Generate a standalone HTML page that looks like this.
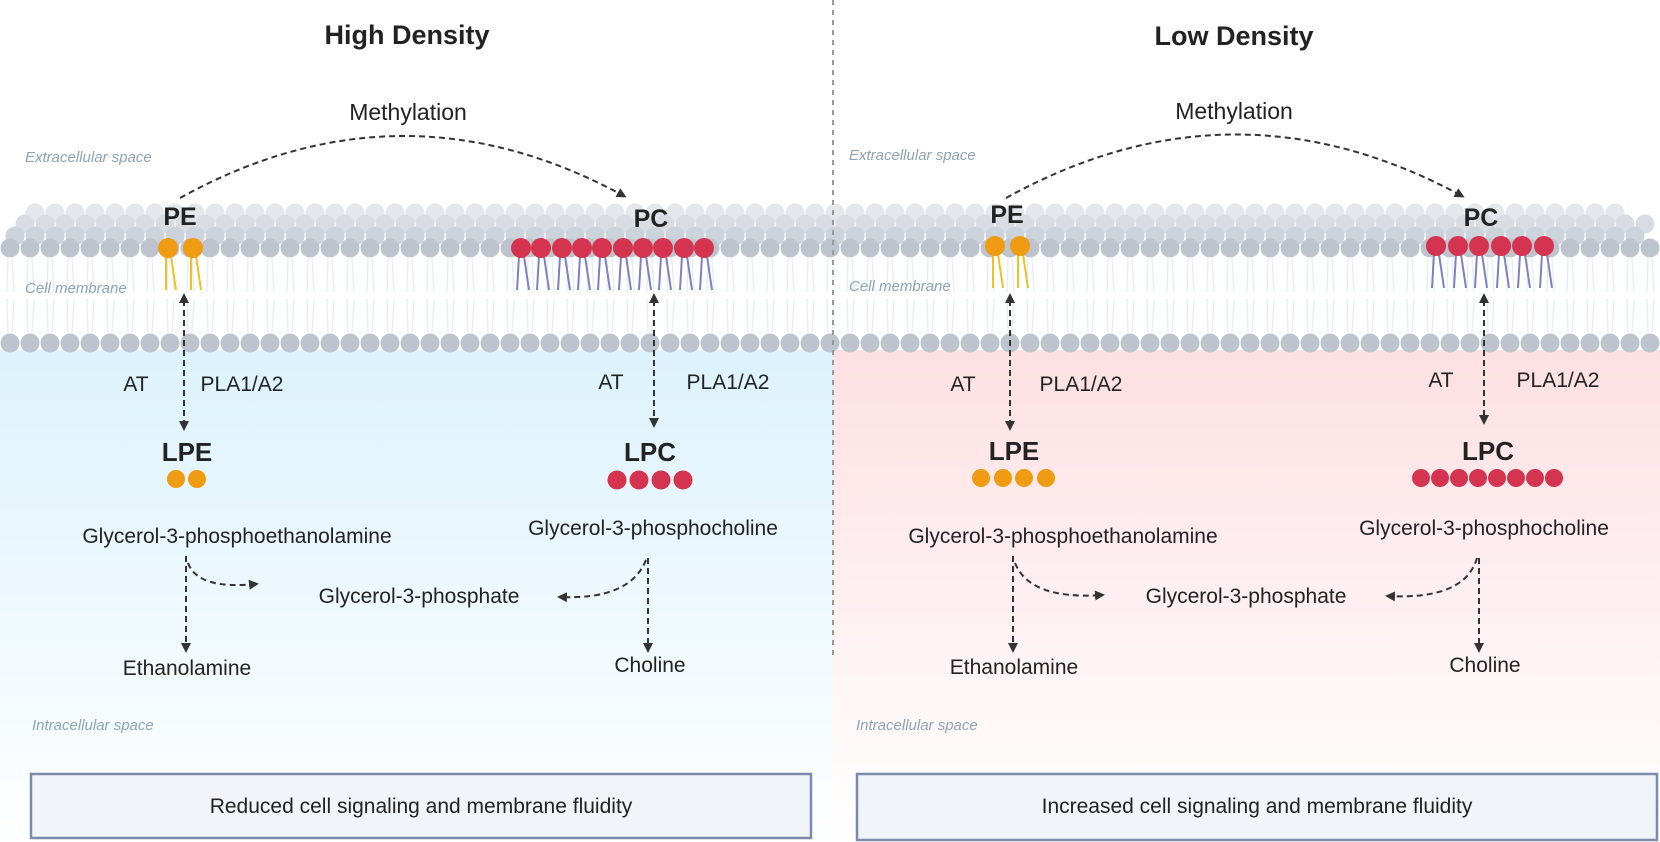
<!DOCTYPE html>
<html><head><meta charset="utf-8"><style>
html,body{margin:0;padding:0;background:#fff}
svg{display:block}
text{font-family:"Liberation Sans",sans-serif;fill:#222}
.it{font-style:italic;fill:#8fa3b5;font-size:15px}
.b{font-weight:bold}
</style></head><body>
<svg width="1660" height="842" viewBox="0 0 1660 842" xmlns="http://www.w3.org/2000/svg">
<defs>
<linearGradient id="gb" x1="0" y1="0" x2="0" y2="1"><stop offset="0" stop-color="#dcf2fc"/><stop offset="1" stop-color="#ffffff"/></linearGradient>
<linearGradient id="gp" x1="0" y1="0" x2="0" y2="1"><stop offset="0" stop-color="#fde0e3"/><stop offset="1" stop-color="#ffffff"/></linearGradient>
<pattern id="r1" x="5" y="203" width="20" height="20" patternUnits="userSpaceOnUse"><circle cx="10" cy="10" r="9.5" fill="#e4e7eb"/></pattern>
<pattern id="r2" x="15" y="214" width="20" height="20" patternUnits="userSpaceOnUse"><circle cx="10" cy="10" r="9.5" fill="#d9dde3"/></pattern>
<pattern id="r3" x="5" y="226" width="20" height="20" patternUnits="userSpaceOnUse"><circle cx="10" cy="10" r="9.5" fill="#cdd3da"/></pattern>
<pattern id="r4" x="0" y="238" width="20" height="20" patternUnits="userSpaceOnUse"><circle cx="10" cy="10" r="9.5" fill="#bdc4cd"/></pattern>
<pattern id="r5" x="0" y="333" width="20" height="20" patternUnits="userSpaceOnUse"><circle cx="10" cy="10" r="9.5" fill="#bdc4cd"/></pattern>
<pattern id="t1" x="0" y="258" width="20" height="34" patternUnits="userSpaceOnUse"><path d="M8,0 L7,34 M12,0 L14,34" stroke="#e2edf8" stroke-width="1.3" fill="none"/></pattern>
<pattern id="t2" x="0" y="299" width="20" height="34" patternUnits="userSpaceOnUse"><path d="M7,0 L8,34 M14,0 L12,34" stroke="#e2edf8" stroke-width="1.3" fill="none"/></pattern>
<marker id="ah" markerWidth="10" markerHeight="10" refX="7" refY="5" orient="auto" markerUnits="userSpaceOnUse"><path d="M0,0 L10,5 L0,10 Z" fill="#333"/></marker>
<marker id="as" markerWidth="10" markerHeight="10" refX="3" refY="5" orient="auto-start-reverse" markerUnits="userSpaceOnUse"><path d="M0,0 L10,5 L0,10 Z" fill="#333"/></marker>
</defs>
<rect x="0" y="350" width="833" height="492" fill="url(#gb)"/>
<rect x="833" y="350" width="827" height="492" fill="url(#gp)"/>
<rect x="25" y="203" width="1600" height="20" fill="url(#r1)"/>
<rect x="15" y="214" width="1640" height="20" fill="url(#r2)"/>
<rect x="5" y="226" width="1640" height="20" fill="url(#r3)"/>
<rect x="0" y="258" width="1660" height="34" fill="url(#t1)"/>
<rect x="0" y="299" width="1660" height="34" fill="url(#t2)"/>
<rect x="0" y="238" width="1660" height="20" fill="url(#r4)"/>
<rect x="0" y="333" width="1660" height="20" fill="url(#r5)"/>
<line x1="833" y1="0" x2="833" y2="655" stroke="#999" stroke-width="2" stroke-dasharray="5 5"/>
<text x="407" y="44" text-anchor="middle" font-size="27" class="b">High Density</text>
<text x="1234" y="45" text-anchor="middle" font-size="27" class="b">Low Density</text>
<text x="408" y="120" text-anchor="middle" font-size="23">Methylation</text>
<text x="1234" y="119" text-anchor="middle" font-size="23">Methylation</text>
<text x="25" y="162" class="it">Extracellular space</text>
<text x="849" y="160" class="it">Extracellular space</text>
<text x="25" y="293" class="it">Cell membrane</text>
<text x="849" y="291" class="it">Cell membrane</text>
<text x="32" y="730" class="it">Intracellular space</text>
<text x="856" y="730" class="it">Intracellular space</text>
<path d="M180,198 Q402,75 624,196" fill="none" stroke="#333" stroke-width="2" stroke-dasharray="6 4" marker-end="url(#ah)"/>
<path d="M1006,198 Q1234,72 1462,196" fill="none" stroke="#333" stroke-width="2" stroke-dasharray="6 4" marker-end="url(#ah)"/>
<g stroke="#f2c021" stroke-width="2" fill="none">
<path d="M166,256 L166,290 M171,256 L176,290 M191,256 L191,290 M196,256 L201,290"/>
<path d="M993,254 L993,288 M998,254 L1003,288 M1018,254 L1018,288 M1023,254 L1028,288"/>
</g>
<g fill="#ef9c12">
<circle cx="168" cy="248" r="10"/><circle cx="193" cy="248" r="10"/>
<circle cx="995" cy="246" r="10"/><circle cx="1020" cy="246" r="10"/>
</g>
<g stroke="#7f80c0" stroke-width="2" fill="none">
<path d="M519,256 L517,290 M524,256 L529,290 M539,256 L537,290 M544,256 L549,290 M560,256 L558,290 M565,256 L570,290 M580,256 L578,290 M585,256 L590,290 M600,256 L598,290 M605,256 L610,290 M621,256 L619,290 M626,256 L631,290 M641,256 L639,290 M646,256 L651,290 M661,256 L659,290 M666,256 L671,290 M682,256 L680,290 M687,256 L692,290 M702,256 L700,290 M707,256 L712,290"/>
<path d="M1434,254 L1432,288 M1439,254 L1444,288 M1456,254 L1454,288 M1461,254 L1466,288 M1477,254 L1475,288 M1482,254 L1487,288 M1499,254 L1497,288 M1504,254 L1509,288 M1520,254 L1518,288 M1525,254 L1530,288 M1542,254 L1540,288 M1547,254 L1552,288"/>
</g>
<g fill="#d4344f">
<circle cx="521" cy="248" r="10"/><circle cx="541" cy="248" r="10"/><circle cx="562" cy="248" r="10"/><circle cx="582" cy="248" r="10"/><circle cx="602" cy="248" r="10"/><circle cx="623" cy="248" r="10"/><circle cx="643" cy="248" r="10"/><circle cx="663" cy="248" r="10"/><circle cx="684" cy="248" r="10"/><circle cx="704" cy="248" r="10"/>
<circle cx="1436" cy="246" r="10"/><circle cx="1458" cy="246" r="10"/><circle cx="1479" cy="246" r="10"/><circle cx="1501" cy="246" r="10"/><circle cx="1522" cy="246" r="10"/><circle cx="1544" cy="246" r="10"/>
</g>
<text x="180" y="225" text-anchor="middle" font-size="25" class="b">PE</text>
<text x="651" y="227" text-anchor="middle" font-size="25" class="b">PC</text>
<text x="1007" y="223" text-anchor="middle" font-size="25" class="b">PE</text>
<text x="1481" y="226" text-anchor="middle" font-size="25" class="b">PC</text>
<g fill="none" stroke="#333" stroke-width="2" stroke-dasharray="6 4">
<path d="M184,300 L184,428" marker-start="url(#as)" marker-end="url(#ah)"/>
<path d="M654,300 L654,425" marker-start="url(#as)" marker-end="url(#ah)"/>
<path d="M1010,300 L1010,428" marker-start="url(#as)" marker-end="url(#ah)"/>
<path d="M1484,300 L1484,422" marker-start="url(#as)" marker-end="url(#ah)"/>
</g>
<g font-size="21">
<text x="136" y="391" text-anchor="middle">AT</text>
<text x="242" y="391" text-anchor="middle">PLA1/A2</text>
<text x="611" y="389" text-anchor="middle">AT</text>
<text x="728" y="389" text-anchor="middle">PLA1/A2</text>
<text x="963" y="391" text-anchor="middle">AT</text>
<text x="1081" y="391" text-anchor="middle">PLA1/A2</text>
<text x="1441" y="387" text-anchor="middle">AT</text>
<text x="1558" y="387" text-anchor="middle">PLA1/A2</text>
</g>
<text x="187" y="461" text-anchor="middle" font-size="26" class="b">LPE</text>
<text x="650" y="461" text-anchor="middle" font-size="26" class="b">LPC</text>
<text x="1014" y="460" text-anchor="middle" font-size="26" class="b">LPE</text>
<text x="1488" y="460" text-anchor="middle" font-size="26" class="b">LPC</text>
<g fill="#ef9c12">
<circle cx="176" cy="479" r="9"/><circle cx="197" cy="479" r="9"/>
<circle cx="981" cy="478" r="9"/><circle cx="1003" cy="478" r="9"/><circle cx="1024" cy="478" r="9"/><circle cx="1046" cy="478" r="9"/>
</g>
<g fill="#d4344f">
<circle cx="617" cy="480" r="9.5"/><circle cx="639" cy="480" r="9.5"/><circle cx="661" cy="480" r="9.5"/><circle cx="683" cy="480" r="9.5"/>
<circle cx="1421" cy="478" r="9"/><circle cx="1440" cy="478" r="9"/><circle cx="1459" cy="478" r="9"/><circle cx="1478" cy="478" r="9"/><circle cx="1497" cy="478" r="9"/><circle cx="1516" cy="478" r="9"/><circle cx="1535" cy="478" r="9"/><circle cx="1554" cy="478" r="9"/>
</g>
<g font-size="21">
<text x="237" y="543" text-anchor="middle">Glycerol-3-phosphoethanolamine</text>
<text x="653" y="535" text-anchor="middle">Glycerol-3-phosphocholine</text>
<text x="419" y="603" text-anchor="middle">Glycerol-3-phosphate</text>
<text x="187" y="675" text-anchor="middle">Ethanolamine</text>
<text x="650" y="672" text-anchor="middle">Choline</text>
<text x="1063" y="543" text-anchor="middle">Glycerol-3-phosphoethanolamine</text>
<text x="1484" y="535" text-anchor="middle">Glycerol-3-phosphocholine</text>
<text x="1246" y="603" text-anchor="middle">Glycerol-3-phosphate</text>
<text x="1014" y="674" text-anchor="middle">Ethanolamine</text>
<text x="1485" y="672" text-anchor="middle">Choline</text>
</g>
<g fill="none" stroke="#333" stroke-width="2" stroke-dasharray="6 4">
<path d="M186,556 L186,650" marker-end="url(#ah)"/>
<path d="M188,563 Q198,590 256,584" marker-end="url(#ah)"/>
<path d="M648,558 L648,650" marker-end="url(#ah)"/>
<path d="M646,560 Q630,600 560,597" marker-end="url(#ah)"/>
<path d="M1013,556 L1013,650" marker-end="url(#ah)"/>
<path d="M1015,563 Q1030,600 1102,595" marker-end="url(#ah)"/>
<path d="M1479,558 L1479,650" marker-end="url(#ah)"/>
<path d="M1477,558 Q1465,600 1388,596" marker-end="url(#ah)"/>
</g>
<rect x="31" y="774" width="780" height="64" fill="#f1f4f9" stroke="#7d89ad" stroke-width="2.5"/>
<text x="421" y="813" text-anchor="middle" font-size="21">Reduced cell signaling and membrane fluidity</text>
<rect x="857" y="774" width="800" height="66" fill="#f1f4f9" stroke="#7d89ad" stroke-width="2.5"/>
<text x="1257" y="813" text-anchor="middle" font-size="21">Increased cell signaling and membrane fluidity</text>
</svg>
</body></html>
